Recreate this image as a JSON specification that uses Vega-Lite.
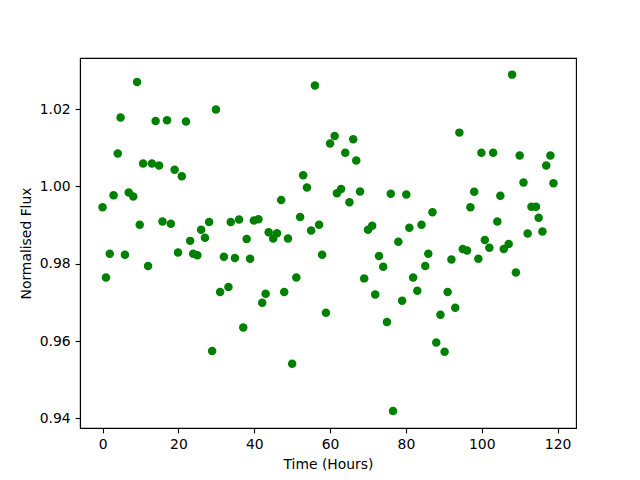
{
  "$schema": "https://vega.github.io/schema/vega-lite/v6.json",
  "autosize": {"type": "none"},
  "padding": {"left": 80, "top": 58, "right": 64, "bottom": 52},
  "width": 496,
  "height": 370,
  "background": "white",
  "data": {"values": [
    {"t": 0.0, "f": 0.9946}, {"t": 0.9, "f": 0.9764}, {"t": 1.9, "f": 0.9826}, {"t": 2.9, "f": 0.9977},
    {"t": 4.0, "f": 1.0085}, {"t": 4.75, "f": 1.0178}, {"t": 5.9, "f": 0.9823}, {"t": 6.9, "f": 0.9984},
    {"t": 8.1, "f": 0.9974}, {"t": 9.1, "f": 1.0270}, {"t": 9.8, "f": 0.9901}, {"t": 10.7, "f": 1.0059},
    {"t": 12.0, "f": 0.9794}, {"t": 13.0, "f": 1.0059}, {"t": 14.0, "f": 1.0169}, {"t": 14.9, "f": 1.0054},
    {"t": 15.8, "f": 0.9909}, {"t": 17.0, "f": 1.0171}, {"t": 18.0, "f": 0.9903}, {"t": 19.0, "f": 1.0043},
    {"t": 19.9, "f": 0.9829}, {"t": 20.9, "f": 1.0026}, {"t": 22.0, "f": 1.0168}, {"t": 23.1, "f": 0.9859},
    {"t": 23.9, "f": 0.9826}, {"t": 25.0, "f": 0.9822}, {"t": 26.0, "f": 0.9888}, {"t": 27.0, "f": 0.9867},
    {"t": 28.1, "f": 0.9908}, {"t": 28.9, "f": 0.9574}, {"t": 29.9, "f": 1.0199}, {"t": 31.0, "f": 0.9727},
    {"t": 32.0, "f": 0.9818}, {"t": 33.2, "f": 0.9740}, {"t": 33.8, "f": 0.9908}, {"t": 34.9, "f": 0.9815},
    {"t": 36.0, "f": 0.9914}, {"t": 37.1, "f": 0.9635}, {"t": 38.0, "f": 0.9864}, {"t": 38.9, "f": 0.9813},
    {"t": 39.9, "f": 0.9912}, {"t": 41.1, "f": 0.9915}, {"t": 42.1, "f": 0.9699}, {"t": 43.0, "f": 0.9722},
    {"t": 43.8, "f": 0.9881}, {"t": 45.0, "f": 0.9865}, {"t": 46.0, "f": 0.9879}, {"t": 47.1, "f": 0.9965},
    {"t": 47.9, "f": 0.9727}, {"t": 48.9, "f": 0.9865}, {"t": 50.0, "f": 0.9541}, {"t": 51.1, "f": 0.9764},
    {"t": 52.1, "f": 0.9921}, {"t": 52.9, "f": 1.0029}, {"t": 53.9, "f": 0.9997}, {"t": 55.0, "f": 0.9886},
    {"t": 56.0, "f": 1.0261}, {"t": 57.1, "f": 0.9901}, {"t": 57.9, "f": 0.9823}, {"t": 58.9, "f": 0.9673},
    {"t": 60.0, "f": 1.0111}, {"t": 61.2, "f": 1.0130}, {"t": 61.8, "f": 0.9982}, {"t": 62.9, "f": 0.9993},
    {"t": 64.0, "f": 1.0087}, {"t": 65.1, "f": 0.9959}, {"t": 66.1, "f": 1.0122}, {"t": 66.9, "f": 1.0067},
    {"t": 67.9, "f": 0.9987}, {"t": 69.0, "f": 0.9762}, {"t": 70.0, "f": 0.9888}, {"t": 71.1, "f": 0.9898},
    {"t": 71.9, "f": 0.9720}, {"t": 72.9, "f": 0.9820}, {"t": 74.0, "f": 0.9792}, {"t": 75.0, "f": 0.9649},
    {"t": 76.0, "f": 0.9981}, {"t": 76.6, "f": 0.9419}, {"t": 78.0, "f": 0.9857}, {"t": 79.0, "f": 0.9704},
    {"t": 80.1, "f": 0.9979}, {"t": 80.9, "f": 0.9893}, {"t": 81.9, "f": 0.9764}, {"t": 83.0, "f": 0.9730},
    {"t": 84.1, "f": 0.9901}, {"t": 85.1, "f": 0.9794}, {"t": 85.9, "f": 0.9826}, {"t": 87.0, "f": 0.9933},
    {"t": 88.0, "f": 0.9596}, {"t": 89.1, "f": 0.9668}, {"t": 90.2, "f": 0.9572}, {"t": 91.0, "f": 0.9727},
    {"t": 92.0, "f": 0.9811}, {"t": 93.0, "f": 0.9686}, {"t": 94.1, "f": 1.0139}, {"t": 95.0, "f": 0.9838},
    {"t": 96.1, "f": 0.9834}, {"t": 97.0, "f": 0.9946}, {"t": 98.0, "f": 0.9986}, {"t": 99.1, "f": 0.9813},
    {"t": 99.9, "f": 1.0087}, {"t": 100.8, "f": 0.9861}, {"t": 102.0, "f": 0.9841}, {"t": 103.0, "f": 1.0087},
    {"t": 104.1, "f": 0.9909}, {"t": 104.9, "f": 0.9976}, {"t": 105.8, "f": 0.9838}, {"t": 107.1, "f": 0.9851},
    {"t": 108.0, "f": 1.0289}, {"t": 109.0, "f": 0.9777}, {"t": 110.0, "f": 1.0080}, {"t": 111.0, "f": 1.0010},
    {"t": 112.1, "f": 0.9878}, {"t": 113.1, "f": 0.9947}, {"t": 114.3, "f": 0.9947}, {"t": 115.0, "f": 0.9919},
    {"t": 116.0, "f": 0.9883}, {"t": 117.0, "f": 1.0054}, {"t": 118.1, "f": 1.0080}, {"t": 118.9, "f": 1.0008}
  ]},
  "mark": {"type": "point", "filled": true, "opacity": 1, "color": "#008000", "size": 72, "shape": "circle"},
  "encoding": {
    "x": {
      "field": "t", "type": "quantitative",
      "scale": {"domain": [-5.95, 124.85], "nice": false, "zero": false},
      "axis": {"title": "Time (Hours)", "values": [0, 20, 40, 60, 80, 100, 120], "format": "d"}
    },
    "y": {
      "field": "f", "type": "quantitative",
      "scale": {"domain": [0.9375, 1.0332], "nice": false, "zero": false},
      "axis": {"title": "Normalised Flux", "values": [0.94, 0.96, 0.98, 1.0, 1.02], "format": ".2f"}
    }
  },
  "config": {
    "view": {"stroke": "black", "strokeWidth": 1.1},
    "axis": {
      "grid": false,
      "domainColor": "black", "domainWidth": 1.1,
      "tickColor": "black", "tickWidth": 1.1, "tickSize": 4.9,
      "labelFont": "DejaVu Sans", "labelFontSize": 13.9, "labelColor": "black", "labelPadding": 4.9,
      "titleFont": "DejaVu Sans", "titleFontSize": 13.9, "titleColor": "black", "titleFontWeight": "normal",
      "titlePadding": 5.6, "labelFlush": false, "labelOverlap": false
    }
  }
}
